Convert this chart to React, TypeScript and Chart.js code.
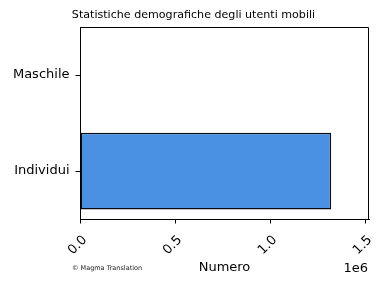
import React, { useEffect, useRef } from "react";
import { Chart, registerables } from "chart.js";

Chart.register(...registerables);

const categories = ["Maschile", "Individui"];
const values = [0, 1322000];
const xTickValues = [0, 500000, 1000000, 1500000];
const xMax = 1521000;
const titleText = "Statistiche demografiche degli utenti mobili";
const xAxisTitle = "Numero";
const offsetLabel = "1e6";
const footerText = "© Magma Translation";

const FONT = "'DejaVu Sans', sans-serif";

const extrasPlugin = {
  id: "extras",
  afterDraw(chart: any) {
    const { ctx, chartArea } = chart;
    ctx.save();
    ctx.strokeStyle = "#000";
    ctx.lineWidth = 1;
    const top = Math.round(chartArea.top) + 0.5;
    const right = Math.round(chartArea.right) - 0.5;
    ctx.beginPath();
    ctx.moveTo(chartArea.left, top);
    ctx.lineTo(right, top);
    ctx.lineTo(right, chartArea.bottom);
    ctx.stroke();
    ctx.fillStyle = "#000";
    ctx.font = `13px ${FONT}`;
    ctx.textAlign = "right";
    ctx.textBaseline = "alphabetic";
    ctx.fillText(offsetLabel, chartArea.right - 1, 272);
    ctx.font = `6.5px ${FONT}`;
    ctx.fillStyle = "#222";
    ctx.textAlign = "left";
    ctx.textBaseline = "middle";
    ctx.fillText(footerText, 72, 268);
    ctx.restore();
  },
};

export default function App() {
  const ref = useRef<HTMLCanvasElement | null>(null);
  useEffect(() => {
    if (!ref.current) return;
    const chart = new Chart(ref.current, {
      type: "bar",
      data: {
        labels: categories,
        datasets: [
          {
            data: values,
            backgroundColor: "#4a90e2",
            borderColor: "#0a0a14",
            borderWidth: 1.5,
            borderSkipped: false,
            barPercentage: 0.8,
            categoryPercentage: 1,
          },
        ],
      },
      options: {
        indexAxis: "y",
        animation: false,
        responsive: false,
        maintainAspectRatio: false,
        layout: { padding: 0, autoPadding: false },
        plugins: {
          legend: { display: false },
          tooltip: { enabled: false },
          title: {
            display: true,
            text: titleText,
            color: "#000",
            font: { family: FONT, size: 11.1, weight: "normal" },
            padding: { top: 8, bottom: 5.8 },
          },
        },
        scales: {
          x: {
            type: "linear",
            min: 0,
            max: xMax,
            afterFit: (s: any) => {
              s.height = 64;
            },
            afterBuildTicks: (s: any) => {
              s.ticks = xTickValues.map((v) => ({ value: v }));
            },
            ticks: {
              includeBounds: false,
              stepSize: 500000,
              minRotation: 45,
              maxRotation: 45,
              labelOffset: 5,
              padding: 9,
              color: "#000",
              font: { family: FONT, size: 13 },
              callback: (v: any) => (Number(v) / 1e6).toFixed(1),
            },
            grid: {
              display: true,
              drawOnChartArea: false,
              drawTicks: true,
              tickLength: 4.5,
              color: "#000",
            },
            border: { display: true, color: "#000", width: 1 },
            title: {
              display: true,
              text: xAxisTitle,
              color: "#000",
              font: { family: FONT, size: 13 },
              padding: { top: 0, bottom: 8 },
            },
          },
          y: {
            type: "category",
            afterFit: (s: any) => {
              s.width = 80;
            },
            ticks: {
              color: "#000",
              padding: 6,
              font: { family: FONT, size: 13 },
            },
            grid: {
              display: true,
              offset: false,
              drawOnChartArea: false,
              drawTicks: true,
              tickLength: 4.5,
              color: "#000",
            },
            border: { display: true, color: "#000", width: 1 },
          },
          y2: {
            type: "linear",
            position: "right",
            display: true,
            afterFit: (s: any) => {
              s.width = 18;
            },
            ticks: { display: false },
            grid: { display: false },
            border: { display: false },
          },
        },
      },
      plugins: [extrasPlugin],
    } as any);
    return () => chart.destroy();
  }, []);
  return (
    <div style={{ position: "fixed", left: 0, top: 0, width: 387, height: 283, background: "#fff" }}>
      <canvas ref={ref} width={387} height={283} style={{ width: 387, height: 283, display: "block" }} />
    </div>
  );
}
